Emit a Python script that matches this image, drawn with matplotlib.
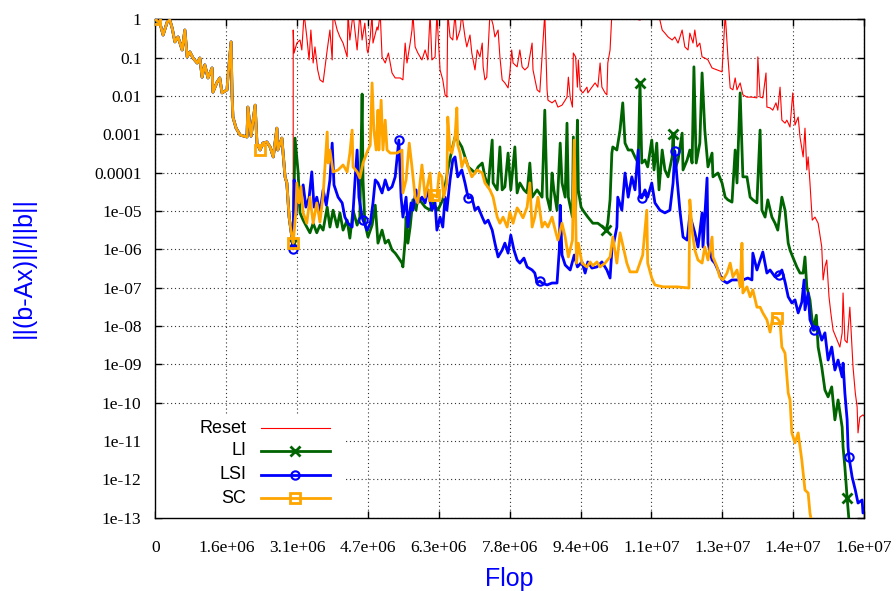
import numpy as np
import matplotlib
matplotlib.use("Agg")
import matplotlib.pyplot as plt
from matplotlib.patches import Rectangle

# ---------------- data: (flop in millions, log10 of relative residual) ----------------
# shared beginning (the three protected solvers coincide before the first fault)
start_pts = [(0.00, 0.00), (0.10, -0.10), (0.17, -0.41), (0.26, -0.07), (0.32, -0.02), (0.37, -0.23),
             (0.43, -0.59), (0.50, -0.46), (0.59, -0.80), (0.65, -0.28), (0.70, -0.98), (0.76, -0.85),
             (0.83, -1.01), (0.92, -1.14), (0.98, -1.01), (1.03, -1.51), (1.09, -1.19), (1.16, -1.53),
             (1.25, -1.27), (1.27, -1.90), (1.36, -1.64), (1.42, -1.53), (1.47, -1.92), (1.58, -1.84),
             (1.60, -1.51), (1.67, -0.59), (1.69, -1.92), (1.71, -2.55), (1.78, -2.84), (1.87, -3.02),
             (2.02, -3.07), (2.04, -2.29), (2.11, -3.05), (2.20, -2.24), (2.24, -3.23), (2.31, -3.41),
             (2.37, -3.23), (2.46, -3.20), (2.53, -3.33), (2.60, -3.59), (2.68, -2.84), (2.70, -3.41),
             (2.79, -3.10), (2.86, -4.11), (2.90, -4.27), (2.95, -5.16), (3.01, -5.68)]

reset_pts = [(3.04, -5.84), (3.04, -0.28), (3.06, -0.88), (3.12, -0.62), (3.19, -0.54), (3.23, -0.80),
             (3.28, 0.15), (3.34, -0.46), (3.39, -1.06), (3.43, -0.28), (3.48, -1.14), (3.52, -0.72),
             (3.58, -1.32), (3.63, -1.58), (3.70, -1.64), (3.79, -0.80), (3.85, -0.28), (3.90, -1.06),
             (3.92, 0.15), (4.01, -0.28), (4.07, -0.46), (4.14, -0.62), (4.23, -0.98), (4.25, 0.15),
             (4.29, -0.54), (4.36, 0.15), (4.45, -0.80), (4.51, 0.15), (4.56, -0.54), (4.62, -0.10),
             (4.67, -0.80), (4.69, -0.88), (4.74, -0.46), (4.78, 0.15), (4.80, -0.62), (4.89, -0.20),
             (4.91, -0.28), (4.96, 0.15), (5.00, -0.98), (5.07, -1.14), (5.14, -0.88), (5.18, -1.14),
             (5.22, -1.40), (5.29, -1.53), (5.40, -1.53), (5.46, -1.58), (5.51, -0.62), (5.55, -1.14),
             (5.62, -0.62), (5.66, -0.28), (5.68, 0.15), (5.73, -0.72), (5.79, -0.88), (5.88, -1.06),
             (5.95, -0.80), (6.01, -1.06), (6.06, 0.15), (6.10, -1.06), (6.17, -0.98), (6.21, 0.15),
             (6.28, -1.32), (6.34, -1.58), (6.39, -1.97), (6.43, -2.03), (6.45, 0.15), (6.50, -0.46),
             (6.56, -0.54), (6.61, 0.15), (6.65, -0.54), (6.72, -0.28), (6.76, 0.15), (6.83, -0.46),
             (6.87, -0.72), (6.94, -0.41), (6.98, -0.88), (7.05, -1.32), (7.10, -0.80), (7.16, -0.98),
             (7.21, -0.62), (7.23, -1.24), (7.27, -1.58), (7.31, -1.51), (7.38, 0.15), (7.45, -0.15),
             (7.49, -0.46), (7.56, -0.28), (7.60, -0.98), (7.65, -1.58), (7.71, -1.66), (7.78, -1.79),
             (7.82, -1.40), (7.86, -0.80), (7.89, -1.14), (7.98, -1.24), (8.04, -0.80), (8.09, -1.24),
             (8.15, -1.32), (8.22, -1.24), (8.31, -0.62), (8.33, -1.32), (8.42, -1.84), (8.48, -1.90),
             (8.55, -0.62), (8.59, 0.15), (8.64, -1.84), (8.66, -2.11), (8.75, -2.18), (8.82, -2.11),
             (8.88, -2.29), (8.97, -2.24), (9.04, -2.11), (9.08, -2.03), (9.11, -1.51), (9.15, -2.03),
             (9.20, -2.29), (9.22, -0.88), (9.27, -0.98), (9.31, -1.77), (9.33, -1.06), (9.37, -1.84),
             (9.43, -1.92), (9.52, -1.77), (9.54, -1.92), (9.63, -1.77), (9.70, -1.66), (9.76, -1.77),
             (9.81, -1.14), (9.85, -1.77), (9.92, -1.92), (9.96, -1.97), (9.98, -1.14), (10.03, -0.80),
             (10.07, 0.15), (10.47, 0.05), (10.69, -0.02), (10.91, 0.15), (11.13, -0.02), (11.18, -0.28),
             (11.24, -0.36), (11.31, -0.46), (11.40, -0.54), (11.46, -0.46), (11.53, -0.62), (11.62, -0.28),
             (11.68, -0.72), (11.75, -0.80), (11.79, -0.36), (11.86, -0.62), (11.90, -0.28), (11.95, -0.72),
             (12.01, -0.62), (12.06, -0.98), (12.12, -1.01), (12.19, -1.06), (12.28, -1.27), (12.39, -1.32),
             (12.50, -1.37), (12.57, 0.15), (12.63, -0.98), (12.68, -1.79), (12.74, -1.84), (12.79, -1.53),
             (12.83, -1.84), (12.90, -1.66), (12.96, -1.97), (13.05, -2.03), (13.16, -2.03), (13.27, -2.05),
             (13.29, -0.98), (13.34, -2.03), (13.40, -2.05), (13.47, -1.40), (13.49, -2.29), (13.56, -2.31),
             (13.62, -2.37), (13.69, -2.18), (13.73, -2.37), (13.78, -1.77), (13.82, -2.63), (13.89, -2.71),
             (13.93, -2.63), (14.00, -2.81), (14.06, -1.92), (14.11, -2.76), (14.18, -2.55), (14.22, -3.07),
             (14.29, -3.59), (14.33, -2.84), (14.37, -3.93), (14.40, -3.59), (14.44, -4.27), (14.49, -5.24),
             (14.55, -5.16), (14.62, -5.32), (14.70, -5.94), (14.73, -6.80), (14.77, -6.46), (14.81, -6.28),
             (14.86, -7.24), (14.90, -7.66), (14.95, -8.11), (15.04, -8.37), (15.10, -8.55), (15.15, -8.18),
             (15.17, -7.14), (15.21, -8.37), (15.26, -8.44), (15.32, -7.51), (15.37, -8.63), (15.39, -9.07),
             (15.44, -9.75), (15.48, -10.11), (15.50, -10.79), (15.54, -10.38), (15.61, -10.32), (15.66, -10.38)]

li_pts = [(3.04, -5.84), (3.08, -3.10), (3.15, -4.01), (3.19, -5.05), (3.26, -5.24), (3.34, -5.42),
          (3.41, -5.57), (3.48, -5.32), (3.56, -5.57), (3.63, -5.37), (3.70, -5.50), (3.79, -4.90),
          (3.85, -5.42), (3.92, -4.98), (4.01, -5.42), (4.07, -5.05), (4.14, -5.50), (4.23, -5.24),
          (4.29, -5.71), (4.36, -4.98), (4.45, -5.37), (4.51, -5.16), (4.56, -1.95), (4.58, -4.19),
          (4.62, -5.32), (4.69, -5.68), (4.78, -5.37), (4.85, -4.85), (4.91, -5.84), (5.00, -5.50),
          (5.07, -5.84), (5.14, -5.76), (5.22, -6.02), (5.29, -6.10), (5.35, -6.20), (5.44, -6.36),
          (5.46, -6.46), (5.51, -5.76), (5.53, -5.16), (5.57, -5.84), (5.62, -5.42), (5.68, -4.71),
          (5.75, -4.98), (5.79, -4.64), (5.88, -4.79), (5.95, -4.90), (6.06, -4.98), (6.12, -4.79),
          (6.23, -4.98), (6.34, -4.71), (6.45, -3.93), (6.54, -3.41), (6.61, -3.07), (6.67, -3.15),
          (6.76, -3.33), (6.83, -3.59), (6.90, -3.85), (6.98, -3.93), (7.05, -4.01), (7.12, -3.85),
          (7.21, -3.75), (7.27, -4.11), (7.34, -4.37), (7.43, -3.15), (7.45, -4.27), (7.54, -4.45),
          (7.60, -3.33), (7.65, -4.45), (7.71, -4.37), (7.78, -3.49), (7.84, -4.45), (7.93, -3.33),
          (7.98, -4.53), (8.04, -4.27), (8.13, -4.45), (8.20, -4.53), (8.26, -3.75), (8.31, -4.64),
          (8.42, -4.45), (8.53, -4.64), (8.59, -2.37), (8.64, -4.64), (8.71, -4.98), (8.75, -4.01),
          (8.79, -4.45), (8.86, -4.98), (8.93, -3.23), (8.97, -4.27), (9.04, -4.64), (9.08, -2.71),
          (9.11, -4.64), (9.20, -5.16), (9.22, -3.07), (9.27, -4.98), (9.31, -2.63), (9.33, -4.45),
          (9.39, -4.90), (9.43, -4.98), (9.54, -5.16), (9.65, -5.32), (9.76, -5.32), (9.87, -5.42),
          (9.94, -5.50), (9.98, -5.32), (10.03, -4.71), (10.07, -3.49), (10.09, -3.33), (10.18, -3.41),
          (10.25, -2.89), (10.31, -2.18), (10.36, -3.23), (10.43, -3.41), (10.51, -3.41), (10.58, -3.59),
          (10.65, -3.75), (10.69, -1.66), (10.73, -3.75), (10.80, -3.67), (10.86, -3.85), (10.95, -3.15),
          (11.00, -3.93), (11.06, -3.23), (11.11, -4.45), (11.18, -3.41), (11.24, -3.93), (11.31, -4.11),
          (11.40, -3.59), (11.42, -2.99), (11.46, -3.93), (11.53, -3.67), (11.62, -2.97), (11.64, -3.93),
          (11.73, -3.67), (11.79, -3.41), (11.84, -3.75), (11.88, -1.24), (11.93, -3.75), (12.01, -3.23),
          (12.06, -1.40), (12.12, -2.89), (12.19, -3.85), (12.28, -3.49), (12.30, -4.11), (12.41, -4.01),
          (12.50, -4.27), (12.57, -4.64), (12.63, -4.71), (12.72, -4.77), (12.79, -3.41), (12.83, -4.27),
          (12.90, -1.92), (12.96, -4.11), (13.05, -4.11), (13.12, -4.64), (13.18, -4.71), (13.27, -4.79),
          (13.34, -2.89), (13.38, -4.98), (13.45, -5.16), (13.51, -4.71), (13.60, -5.16), (13.67, -5.32),
          (13.73, -5.50), (13.82, -4.64), (13.89, -4.98), (13.96, -5.84), (14.00, -6.02), (14.06, -6.20),
          (14.15, -6.46), (14.22, -6.62), (14.29, -6.62), (14.33, -6.20), (14.37, -6.98), (14.44, -7.32),
          (14.51, -8.11), (14.58, -7.72), (14.62, -8.55), (14.70, -9.07), (14.77, -9.67), (14.84, -9.85),
          (14.92, -9.59), (14.99, -10.45), (15.06, -9.93), (15.15, -10.64), (15.17, -11.16), (15.21, -11.68),
          (15.26, -12.49), (15.30, -13.06)]

lsi_pts = [(3.04, -5.99), (3.06, -4.19), (3.10, -5.11), (3.15, -4.58), (3.19, -4.71), (3.26, -4.32),
           (3.32, -4.90), (3.39, -4.66), (3.45, -3.98), (3.50, -4.90), (3.56, -4.64), (3.63, -5.05),
           (3.70, -4.45), (3.77, -4.85), (3.85, -4.19), (3.90, -3.23), (3.94, -4.32), (4.03, -4.64),
           (4.12, -4.79), (4.18, -5.16), (4.25, -5.32), (4.34, -5.42), (4.40, -4.27), (4.45, -3.41),
           (4.49, -4.64), (4.56, -5.16), (4.58, -5.24), (4.67, -5.50), (4.74, -5.32), (4.80, -4.79),
           (4.85, -4.19), (4.91, -4.27), (5.00, -4.53), (5.07, -4.19), (5.14, -4.45), (5.22, -4.37),
           (5.29, -4.11), (5.37, -3.15), (5.42, -4.64), (5.46, -5.16), (5.53, -4.64), (5.57, -5.42),
           (5.64, -4.79), (5.68, -4.98), (5.75, -4.45), (5.79, -4.79), (5.88, -4.64), (5.95, -4.79),
           (6.01, -4.45), (6.10, -4.98), (6.17, -4.79), (6.21, -5.50), (6.28, -5.16), (6.34, -5.42),
           (6.39, -4.64), (6.43, -4.98), (6.50, -4.19), (6.56, -3.67), (6.61, -3.59), (6.67, -4.11),
           (6.76, -3.93), (6.83, -4.27), (6.90, -4.66), (6.98, -4.64), (7.05, -4.98), (7.12, -4.90),
           (7.21, -5.16), (7.27, -5.32), (7.34, -5.24), (7.43, -5.50), (7.49, -5.84), (7.56, -6.20),
           (7.65, -6.02), (7.71, -5.84), (7.78, -6.10), (7.84, -5.63), (7.91, -6.02), (7.98, -6.28),
           (8.04, -6.36), (8.13, -6.23), (8.20, -6.46), (8.31, -6.54), (8.37, -6.62), (8.42, -6.88),
           (8.48, -6.83), (8.53, -6.88), (8.64, -6.93), (8.75, -6.88), (8.86, -6.88), (8.91, -6.02),
           (8.93, -4.85), (8.97, -6.15), (9.04, -6.41), (9.15, -6.54), (9.24, -6.15), (9.31, -6.46),
           (9.41, -6.33), (9.48, -6.62), (9.54, -6.33), (9.63, -6.49), (9.74, -6.46), (9.85, -6.33),
           (9.96, -6.54), (10.03, -6.75), (10.07, -6.02), (10.11, -5.84), (10.18, -5.42), (10.20, -4.64),
           (10.29, -4.98), (10.36, -4.01), (10.43, -4.64), (10.51, -4.11), (10.58, -4.45), (10.65, -3.41),
           (10.69, -4.64), (10.73, -4.66), (10.80, -4.45), (10.86, -4.64), (10.95, -4.27), (11.02, -4.79),
           (11.13, -4.98), (11.24, -5.05), (11.35, -4.98), (11.42, -4.27), (11.46, -3.44), (11.51, -4.19),
           (11.57, -4.98), (11.64, -5.68), (11.73, -5.76), (11.79, -5.11), (11.90, -5.57), (11.97, -5.94),
           (12.06, -5.05), (12.08, -5.94), (12.17, -4.14), (12.19, -5.84), (12.28, -6.28), (12.34, -6.36),
           (12.41, -6.54), (12.50, -6.80), (12.61, -6.88), (12.72, -6.80), (12.83, -6.80), (12.96, -6.80),
           (13.07, -6.75), (13.16, -6.80), (13.18, -6.10), (13.27, -6.54), (13.34, -6.28), (13.40, -6.07),
           (13.49, -6.62), (13.56, -6.54), (13.67, -6.72), (13.76, -6.67), (13.82, -6.54), (13.89, -6.85),
           (13.96, -7.24), (14.04, -7.40), (14.11, -7.32), (14.18, -7.66), (14.26, -7.38), (14.31, -6.80),
           (14.33, -7.58), (14.40, -7.14), (14.44, -7.84), (14.53, -8.11), (14.62, -8.03), (14.70, -8.37),
           (14.77, -8.18), (14.84, -8.89), (14.92, -8.55), (14.99, -9.15), (15.06, -8.89), (15.15, -9.33),
           (15.17, -8.97), (15.21, -9.75), (15.26, -10.45), (15.28, -11.16), (15.30, -11.42), (15.37, -11.94),
           (15.44, -12.28), (15.50, -12.62), (15.59, -12.54), (15.61, -12.88), (15.66, -12.85)]

sc_pts = [(3.04, -5.84), (3.10, -4.98), (3.12, -4.27), (3.17, -4.79), (3.21, -4.37), (3.26, -5.05),
          (3.34, -5.32), (3.41, -4.64), (3.48, -5.32), (3.56, -4.79), (3.63, -5.29), (3.70, -4.58),
          (3.79, -2.94), (3.81, -3.75), (3.85, -3.41), (3.92, -3.98), (4.03, -3.93), (4.14, -3.80),
          (4.23, -3.98), (4.29, -3.49), (4.34, -2.89), (4.36, -3.85), (4.45, -3.98), (4.51, -4.14),
          (4.58, -3.75), (4.67, -3.46), (4.74, -3.28), (4.78, -1.66), (4.82, -2.89), (4.87, -3.41),
          (4.91, -2.37), (4.93, -3.41), (4.98, -2.11), (5.02, -3.41), (5.07, -2.63), (5.11, -3.41),
          (5.18, -3.49), (5.33, -3.49), (5.44, -3.41), (5.46, -4.53), (5.53, -4.19), (5.60, -3.23),
          (5.66, -3.85), (5.73, -4.64), (5.79, -4.79), (5.88, -3.80), (5.95, -4.64), (6.06, -4.01),
          (6.10, -4.71), (6.14, -4.58), (6.21, -4.64), (6.26, -4.01), (6.32, -4.11), (6.36, -4.64),
          (6.43, -4.27), (6.45, -2.55), (6.50, -3.41), (6.54, -3.49), (6.61, -3.07), (6.65, -2.31),
          (6.67, -3.28), (6.72, -3.49), (6.76, -3.85), (6.83, -3.62), (6.87, -3.75), (6.98, -4.11),
          (7.10, -3.93), (7.21, -4.01), (7.27, -4.27), (7.38, -4.45), (7.45, -4.64), (7.54, -5.16),
          (7.60, -5.32), (7.67, -5.16), (7.76, -5.42), (7.82, -5.03), (7.89, -5.32), (7.98, -4.92),
          (8.04, -5.03), (8.11, -5.18), (8.20, -4.90), (8.26, -4.27), (8.31, -5.42), (8.37, -5.16),
          (8.44, -4.64), (8.53, -5.42), (8.59, -5.29), (8.66, -5.42), (8.75, -5.16), (8.82, -5.50),
          (8.88, -5.76), (8.97, -5.32), (9.04, -5.68), (9.11, -6.20), (9.20, -5.76), (9.24, -3.15),
          (9.29, -6.36), (9.33, -5.84), (9.41, -6.36), (9.52, -6.46), (9.59, -6.33), (9.65, -6.43),
          (9.74, -6.33), (9.81, -6.46), (9.92, -6.36), (10.03, -6.20), (10.09, -5.68), (10.18, -6.36),
          (10.25, -5.57), (10.31, -5.89), (10.40, -6.36), (10.47, -6.59), (10.62, -6.59), (10.75, -6.15),
          (10.84, -4.98), (10.86, -6.36), (10.95, -6.75), (11.02, -6.93), (11.20, -6.98), (11.51, -6.98),
          (11.77, -7.01), (11.79, -4.71), (11.84, -5.50), (11.90, -6.02), (11.97, -6.28), (12.06, -6.36),
          (12.12, -5.94), (12.19, -6.28), (12.28, -5.68), (12.30, -6.20), (12.39, -6.46), (12.45, -6.72),
          (12.52, -6.80), (12.61, -6.62), (12.68, -6.36), (12.74, -6.72), (12.83, -6.54), (12.90, -6.98),
          (12.94, -5.84), (12.96, -7.14), (13.05, -6.98), (13.12, -7.24), (13.18, -7.06), (13.27, -7.51),
          (13.34, -7.51), (13.40, -7.66), (13.49, -7.84), (13.56, -8.16), (13.62, -7.77), (13.71, -7.79),
          (13.78, -7.90), (13.82, -8.55), (13.89, -8.71), (13.96, -9.75), (14.00, -9.93), (14.04, -10.79),
          (14.11, -11.05), (14.18, -10.79), (14.26, -11.50), (14.33, -12.28), (14.40, -12.36), (14.44, -12.88),
          (14.49, -13.20)]

# where the point symbols sit (flop in millions)
li_marks = [0.00, 3.04, 9.94, 10.69, 11.42, 15.26]
lsi_marks = [3.04, 4.58, 5.37, 6.90, 8.48, 10.73, 11.46, 13.76, 14.53, 15.30]
sc_marks = [0.00, 2.31, 3.04, 6.14, 13.71]

series_names = ["Reset", "LI", "LSI", "SC"]
xtick_labels = ["0", "1.6e+06", "3.1e+06", "4.7e+06", "6.3e+06", "7.8e+06",
                "9.4e+06", "1.1e+07", "1.3e+07", "1.4e+07", "1.6e+07"]
ytick_labels = ["1", "0.1", "0.01", "0.001", "0.0001", "1e-05", "1e-06", "1e-07",
                "1e-08", "1e-09", "1e-10", "1e-11", "1e-12", "1e-13"]
x_tick_step = 1.5632e6


def unpack(pts):
    arr = np.array(pts, dtype=float)
    return arr[:, 0] * 1e6, 10.0 ** arr[:, 1]


def mark_idx(x, marks):
    return [int(np.argmin(np.abs(x - m * 1e6))) for m in marks]


reset_x, reset_y = unpack(reset_pts)
li_x, li_y = unpack(start_pts + li_pts)
lsi_x, lsi_y = unpack(start_pts + lsi_pts)
sc_x, sc_y = unpack(start_pts + sc_pts)

RED, GREEN, BLUE, ORANGE = "#ff0000", "#006400", "#0000ff", "#ffa500"
SERIF = "Liberation Serif"
SANS = "Liberation Sans"

W, H = 896, 591
fig = plt.figure(figsize=(W / 100, H / 100), dpi=100)
L, R, T, B = 155.4, 864.0, 19.3, 517.6
ax = fig.add_axes([L / W, 1 - B / H, (R - L) / W, (B - T) / H])

ax.plot(reset_x, reset_y, color=RED, lw=0.8, zorder=2)
ax.plot(li_x, li_y, color=GREEN, lw=2.0, zorder=3, marker="x", ms=6.5, mew=2.0,
        markevery=mark_idx(li_x, li_marks))
ax.plot(lsi_x, lsi_y, color=BLUE, lw=2.0, zorder=4, marker="o", ms=6, mew=1.5, mfc="none",
        markevery=mark_idx(lsi_x, lsi_marks))
ax.plot(sc_x, sc_y, color=ORANGE, lw=2.0, zorder=5, marker="s", ms=6.5, mew=2.0, mfc="none",
        markevery=mark_idx(sc_x, sc_marks))

ax.set_yscale("log")
ax.set_xlim(0, x_tick_step * (len(xtick_labels) - 1))
ax.set_ylim(1e-13, 1)
ax.set_xticks([i * x_tick_step for i in range(len(xtick_labels))])
ax.set_xticklabels(xtick_labels, family=SERIF, fontsize=12.5)
ax.set_yticks([10.0 ** (-i) for i in range(len(ytick_labels))])
ax.set_yticklabels(ytick_labels, family=SERIF, fontsize=12.5)
ax.minorticks_off()
ax.tick_params(axis="both", direction="in", length=5, width=1, top=True, right=True)
ax.tick_params(axis="x", pad=16)
ax.tick_params(axis="y", pad=10)
for s in ax.spines.values():
    s.set_linewidth(1.0)

ax.set_axisbelow(True)
ax.grid(True, color="#333333", linestyle=(0, (1.0, 2.5)), linewidth=0.8)

# legend (gnuplot style: text right aligned, sample on the right, white box without border)
ax.add_patch(Rectangle((0, 0), 0.2676, 0.208, transform=ax.transAxes,
                       facecolor="white", edgecolor="none", zorder=1))
leg_rows = [0.1798, 0.1337, 0.0855, 0.0393]
leg_styles = [dict(color=RED, lw=0.8),
              dict(color=GREEN, lw=2.0, marker="x", ms=6.5, mew=2.0),
              dict(color=BLUE, lw=2.0, marker="o", ms=6, mew=1.5, mfc="none"),
              dict(color=ORANGE, lw=2.0, marker="s", ms=6.5, mew=2.0, mfc="none")]
for name, yy, st in zip(series_names, leg_rows, leg_styles):
    ax.text(0.1279, yy, name, transform=ax.transAxes, ha="right", va="center",
            family=SANS, fontsize=13, zorder=6)
    line_st = {k: v for k, v in st.items() if k in ("color", "lw")}
    ax.plot([0.149, 0.2465], [yy, yy], transform=ax.transAxes, zorder=6, **line_st)
    if "marker" in st:
        ax.plot([0.1977], [yy], transform=ax.transAxes, zorder=7, ls="none", **st)

fig.text(509.7 / W, 1 - 579 / H, "Flop", color="blue", family=SANS, fontsize=18,
         ha="center", va="center")
fig.text(24 / W, 1 - 268 / H, "||(b-Ax)||/||b||", color="blue", family=SANS, fontsize=18,
         rotation=90, ha="center", va="center")

fig.savefig("out.png", dpi=100, facecolor="white")
